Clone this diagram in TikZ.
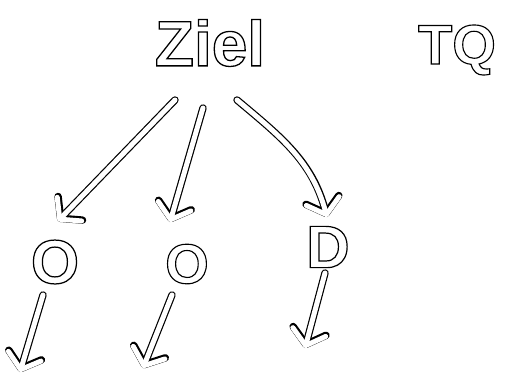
\documentclass[tikz,border=0pt]{standalone}
\usepackage{fontspec}
\setmainfont{Liberation Sans}
\newfontfamily\sketchfont{Liberation Sans Bold}[FakeBold=2]
\newcommand{\hollow}[1]{\special{pdf:literal direct 0 G}#1}
\usetikzlibrary{arrows.meta,calc}
\tikzset{
  barb/.style={-{Straight Barb[length=14pt, width=34pt, round]}},
  stroke/.style={draw=white, line width=5pt, line cap=round, line join=round, barb,
    preaction={draw=black, line width=7.4pt, line cap=round, line join=round, barb}},
  word/.style={inner sep=0pt, text=white, font=\sketchfont\fontsize{#1}{#1}\selectfont},
}

\begin{document}
\begin{tikzpicture}[x=1pt, y=-1pt]
  \useasboundingbox (0,0) rectangle (523,391);
  \node[word=64pt] (ziel) at (210,43) {\hollow{Ziel}};
  \node[word=56pt] (tq)   at (457,50) {\hollow{TQ}};
  \node[word=62pt] (o1)   at (55,262) {\hollow{O}};
  \node[word=56pt] (o2)   at (187,264) {\hollow{O}};
  \node[word=60pt] (d)    at (328,247) {\hollow{D}};
  \coordinate (e1) at (20,372);
  \coordinate (e2) at (143,368);
  \coordinate (e3) at (305,348);
  % from the goal down to the three parts
  \draw[stroke] ($(ziel)+(-35,57)$) -- ($(o1)+(3,-41)$);
  \draw[stroke] ($(ziel)+(-7,65)$) -- ($(o2)+(-17,-42)$);
  \draw[stroke] ($(ziel)+(27,57)$) to[out=-40, in=105] ($(d)+(-1,-30)$);
  % and on below each part
  \draw[stroke] ($(o1)+(-12,33)$) -- (e1);
  \draw[stroke] ($(o2)+(-15,31)$) -- (e2);
  \draw[stroke] ($(d)+(-3,26)$) -- (e3);
\end{tikzpicture}
\end{document}
